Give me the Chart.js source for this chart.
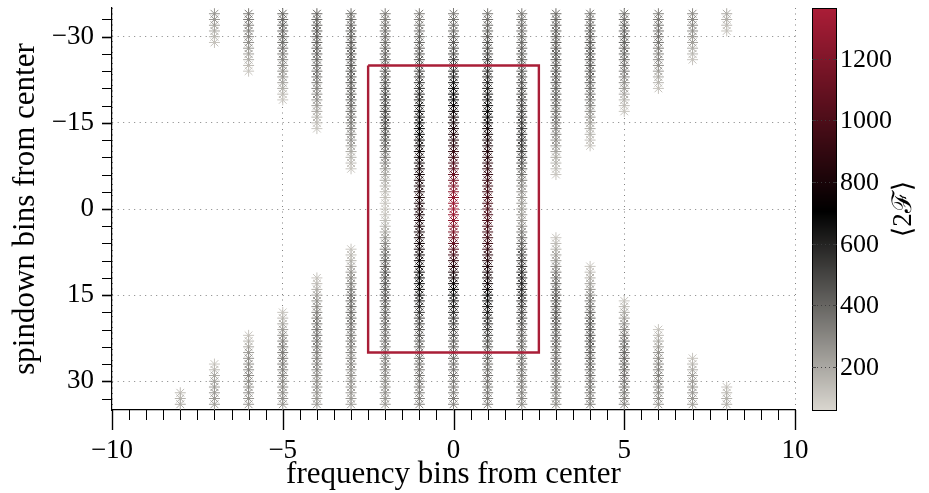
<!DOCTYPE html>
<html>
<head>
<meta charset="utf-8">
<script src="https://cdn.jsdelivr.net/npm/chart.js@4.4.1/dist/chart.umd.min.js"></script>
<style>
  html, body { margin: 0; padding: 0; background: #fff; }
  canvas { display: block; }
</style>
</head>
<body>
<canvas id="myChart" width="929" height="493"></canvas>
<script>
// columns of the grid (frequency bins from center)
const freqBins = [-8, -7, -6, -5, -4, -3, -2, -1, 0, 1, 2, 3, 4, 5, 6, 7, 8];

// spindown bins run from -34 to 34; the upper run of a column starts at -34,
// the lower run ends at 34. Values are <2F>.
const spinTop = -34;
const spinBottom = 34;

const upper2F = [
  [],
  [260, 250, 230, 200, 160, 120],
  [330, 340, 330, 320, 300, 280, 260, 230, 190, 150, 110],
  [380, 400, 410, 400, 390, 380, 360, 340, 320, 300, 280, 250, 220, 190, 150, 110],
  [400, 410, 420, 430, 430, 420, 410, 400, 390, 380, 370, 360, 340, 320, 300, 270, 240, 210, 170, 140, 110],
  [380, 390, 400, 410, 420, 430, 440, 440, 450, 450, 450, 440, 440, 430, 420, 410, 400, 390, 370, 350, 330, 300, 270, 240, 200, 170, 140, 110],
  // x = -2 (full column)
  [330, 340, 350, 360, 370, 380, 390, 400, 410, 420,
   430, 440, 450, 460, 470, 480, 490, 500, 500, 490, 480, 460,
   440, 410, 380, 340, 300, 260, 220, 190, 160, 140, 120, 110,
   100,
   110, 130, 160, 200, 250, 300, 340, 380, 410, 430, 440, 450,
   450, 450, 440, 430, 420, 410, 400, 390, 380, 370, 360, 350,
   340, 330, 320, 310, 300, 290, 280, 270, 260, 250],
  // x = -1
  [330, 340, 350, 370, 390, 410, 430, 450, 470, 490,
   510, 530, 550, 570, 590, 610, 630, 650, 670, 690, 700, 710,
   720, 730, 740, 750, 760, 770, 780, 790, 800, 800, 810, 810,
   810,
   810, 800, 800, 790, 780, 770, 760, 750, 740, 730, 720, 710,
   690, 670, 650, 620, 590, 560, 530, 500, 480, 460, 440, 420,
   400, 390, 380, 370, 360, 350, 340, 330, 320, 310],
  // x = 0
  [330, 350, 370, 390, 410, 430, 450, 480, 510, 540,
   570, 600, 630, 660, 690, 710, 730, 750, 770, 790, 810, 830,
   850, 880, 910, 950, 1000, 1050, 1100, 1150, 1200, 1240, 1270, 1300,
   1320,
   1300, 1270, 1240, 1200, 1150, 1100, 1040, 980, 920, 870, 820, 780,
   740, 700, 670, 640, 610, 580, 550, 520, 490, 460, 440, 420,
   400, 390, 380, 370, 360, 350, 340, 330, 320, 310],
  // x = 1
  [350, 370, 390, 410, 430, 450, 470, 490, 510, 530,
   550, 570, 590, 610, 630, 650, 670, 690, 710, 730, 750, 770,
   790, 810, 830, 850, 870, 890, 910, 930, 950, 970, 980, 990,
   1000,
   1000, 990, 980, 970, 950, 930, 910, 880, 850, 820, 800, 780,
   760, 740, 710, 680, 650, 620, 590, 560, 530, 500, 470, 450,
   430, 410, 390, 380, 370, 360, 350, 340, 330, 320],
  // x = 2
  [340, 350, 360, 370, 380, 390, 400, 410, 420, 430,
   440, 450, 460, 470, 480, 490, 500, 510, 520, 530, 540, 550,
   550, 540, 520, 490, 460, 420, 380, 340, 300, 270, 250, 240,
   230,
   240, 260, 290, 330, 370, 410, 450, 490, 520, 550, 570, 590,
   600, 590, 570, 550, 520, 490, 470, 450, 430, 410, 400, 390,
   380, 370, 360, 350, 340, 330, 320, 310, 300, 290],
  [380, 390, 400, 410, 420, 430, 430, 440, 440, 440, 440, 430, 430, 420, 410, 400, 390, 380, 370, 350, 330, 310, 280, 250, 220, 190, 160, 130, 110],
  [350, 370, 390, 410, 430, 440, 450, 450, 450, 440, 430, 420, 410, 390, 370, 350, 320, 290, 260, 230, 200, 170, 140, 110],
  [350, 370, 390, 400, 410, 410, 400, 390, 380, 360, 340, 310, 280, 250, 210, 170, 140, 110],
  [320, 340, 350, 360, 360, 350, 340, 320, 300, 270, 240, 200, 160, 120],
  [280, 290, 290, 280, 260, 230, 200, 160, 120],
  [190, 180, 150, 120]
];

const lower2F = [
  [140, 170, 190],
  [110, 150, 190, 220, 240, 250, 240, 230],
  [110, 150, 200, 240, 270, 290, 300, 300, 290, 280, 270, 260, 250],
  [110, 150, 200, 240, 280, 310, 330, 340, 340, 330, 320, 310, 300, 290, 280, 270, 260],
  [110, 140, 180, 220, 260, 290, 320, 340, 350, 360, 360, 350, 340, 330, 320, 310, 300, 290, 280, 270, 260, 250, 250],
  [110, 140, 170, 210, 250, 290, 320, 350, 370, 380, 390, 390, 380, 370, 360, 350, 340, 330, 320, 310, 300, 290, 280, 270, 260, 250, 250, 240],
  [], [], [], [], [],
  [110, 140, 170, 210, 250, 290, 330, 360, 390, 410, 430, 440, 450, 450, 440, 430, 420, 410, 400, 390, 380, 370, 360, 350, 340, 330, 320, 310, 300, 290],
  [110, 140, 180, 220, 260, 300, 340, 370, 400, 420, 440, 450, 450, 450, 440, 430, 420, 400, 390, 370, 360, 350, 340, 330, 320],
  [110, 150, 190, 230, 270, 310, 340, 370, 390, 400, 400, 390, 380, 370, 360, 340, 330, 310, 300],
  [110, 150, 190, 230, 260, 290, 310, 320, 320, 310, 300, 290, 270, 260],
  [110, 150, 190, 220, 240, 250, 250, 240, 230],
  [120, 150, 170, 180]
];

// the red search box
const boxX = [-2.5, 2.5, 2.5, -2.5, -2.5];
const boxY = [-25, -25, 25, 25, -25];

// axes
const xTickValues = [-10, -5, 0, 5, 10];
const yTickValues = [-30, -15, 0, 15, 30];
const xTickMarks = [];
for (let v = -10; v <= 10; v += 0.5) xTickMarks.push(v);
const yTickMarks = [];
for (let v = -33; v <= 33; v += 3) yTickMarks.push(v);

// colour bar
const cbarMin = 60;
const cbarMax = 1365;
const cbarTicks = [200, 400, 600, 800, 1000, 1200];
const cmapVals = [60, 705, 1365];
const cmapRGB = [[217, 214, 207], [0, 0, 0], [171, 29, 55]];

function cmap(v) {
  v = Math.max(cmapVals[0], Math.min(cmapVals[cmapVals.length - 1], v));
  let i = 0;
  while (i < cmapVals.length - 2 && v > cmapVals[i + 1]) i++;
  const t = (v - cmapVals[i]) / (cmapVals[i + 1] - cmapVals[i]);
  const c = cmapRGB[i].map((a, k) => Math.round(a + (cmapRGB[i + 1][k] - a) * t));
  return `rgb(${c[0]},${c[1]},${c[2]})`;
}

const points = [];
const pointColors = [];
freqBins.forEach((f, i) => {
  upper2F[i].forEach((v, k) => {
    points.push({ x: f, y: spinTop + k });
    pointColors.push(cmap(v));
  });
  const n = lower2F[i].length;
  lower2F[i].forEach((v, k) => {
    points.push({ x: f, y: spinBottom - n + 1 + k });
    pointColors.push(cmap(v));
  });
});

const serif = "'Liberation Serif', 'DejaVu Serif', serif";
Chart.defaults.font.family = serif;
Chart.defaults.color = '#000';

// tick marks, colour bar and its labels
const frame = {
  id: 'frame',
  afterDraw(chart) {
    const { ctx, chartArea: a, scales: { x, y } } = chart;
    ctx.save();
    ctx.strokeStyle = '#000';
    xTickMarks.forEach(v => {
      const px = Math.round(x.getPixelForValue(v)) + 0.5;
      const major = xTickValues.includes(v);
      ctx.lineWidth = major ? 1.4 : 1;
      ctx.beginPath();
      ctx.moveTo(px, a.bottom);
      ctx.lineTo(px, a.bottom + (major ? 20 : 10));
      ctx.stroke();
    });
    yTickMarks.forEach(v => {
      const py = Math.round(y.getPixelForValue(v)) + 0.5;
      const major = yTickValues.includes(v);
      ctx.lineWidth = major ? 1.6 : 1;
      ctx.beginPath();
      ctx.moveTo(a.left - 10, py);
      ctx.lineTo(a.left, py);
      ctx.stroke();
    });

    // colour bar
    const cx = Math.round(a.right) + 17, cw = 24;
    const top = Math.round(a.top), bot = Math.round(a.bottom);
    for (let py = top; py < bot; py++) {
      const v = cbarMin + (bot - py - 0.5) / (bot - top) * (cbarMax - cbarMin);
      ctx.fillStyle = cmap(v);
      ctx.fillRect(cx, py, cw, 1);
    }
    ctx.lineWidth = 1;
    ctx.strokeStyle = '#000';
    ctx.strokeRect(cx + 0.5, top + 0.5, cw, bot - top);

    ctx.font = '26px ' + serif;
    ctx.fillStyle = '#000';
    ctx.textAlign = 'left';
    ctx.textBaseline = 'middle';
    cbarTicks.forEach(v => {
      const py = Math.round(bot - (v - cbarMin) / (cbarMax - cbarMin) * (bot - top)) + 0.5;
      ctx.strokeStyle = 'rgba(60,60,60,0.9)';
      ctx.setLineDash([1, 3]);
      ctx.beginPath();
      ctx.moveTo(cx + 5, py);
      ctx.lineTo(cx + cw - 4, py);
      ctx.stroke();
      ctx.setLineDash([]);
      ctx.beginPath();
      ctx.moveTo(cx, py); ctx.lineTo(cx + 4, py);
      ctx.moveTo(cx + cw - 3, py); ctx.lineTo(cx + cw + 1, py);
      ctx.stroke();
      ctx.fillText(String(v), cx + cw + 4, py + 1);
    });

    ctx.translate(904, (top + bot) / 2);
    ctx.rotate(-Math.PI / 2);
    ctx.textAlign = 'center';
    ctx.font = '27px ' + serif;
    ctx.fillText('\u27E82\u2131\u27E9', 0, 0);
    ctx.restore();
  }
};

const minus = v => (v < 0 ? '\u2212' + Math.abs(v) : String(v));

const ctx = document.getElementById('myChart').getContext('2d');
new Chart(ctx, {
  type: 'scatter',
  data: {
    datasets: [
      {
        label: 'box',
        data: boxX.map((bx, i) => ({ x: bx, y: boxY[i] })),
        showLine: true,
        borderColor: '#a91e37',
        borderWidth: 2.4,
        pointRadius: 0,
        fill: false,
        order: 0
      },
      {
        label: '2F',
        data: points,
        pointStyle: 'star',
        pointRadius: 5.5,
        pointBorderWidth: 1,
        pointBorderColor: pointColors,
        pointBackgroundColor: pointColors,
        order: 1
      }
    ]
  },
  options: {
    responsive: false,
    animation: false,
    events: [],
    layout: { padding: { top: 8, right: 134, left: 0, bottom: 0 } },
    plugins: { legend: { display: false }, tooltip: { enabled: false } },
    scales: {
      x: {
        type: 'linear',
        min: -10,
        max: 10,
        afterBuildTicks: s => { s.ticks = xTickValues.map(v => ({ value: v })); },
        afterFit: s => { s.height = 83; s.paddingLeft = 0; s.paddingRight = 0; },
        ticks: { autoSkip: false, maxRotation: 0, padding: 25, font: { size: 27 }, callback: minus },
        grid: { color: '#808080', lineWidth: 1, drawTicks: false },
        border: { display: true, color: '#000', width: 1.2, dash: [1, 4.5] },
        title: { display: true, text: 'frequency bins from center', font: { size: 31 }, padding: { top: 0, bottom: 0 } }
      },
      y: {
        type: 'linear',
        min: -35,
        max: 35,
        reverse: true,
        afterBuildTicks: s => { s.ticks = yTickValues.map(v => ({ value: v })); },
        afterFit: s => { s.width = 112; s.paddingTop = 0; s.paddingBottom = 0; },
        ticks: { padding: 18, font: { size: 27 }, callback: minus },
        grid: { color: '#808080', lineWidth: 1, drawTicks: false },
        border: { display: true, color: '#000', width: 1.2, dash: [1, 4.5] },
        title: { display: true, text: 'spindown bins from center', font: { size: 31 }, padding: { top: 7, bottom: 0 } }
      }
    }
  },
  plugins: [frame]
});
</script>
</body>
</html>
